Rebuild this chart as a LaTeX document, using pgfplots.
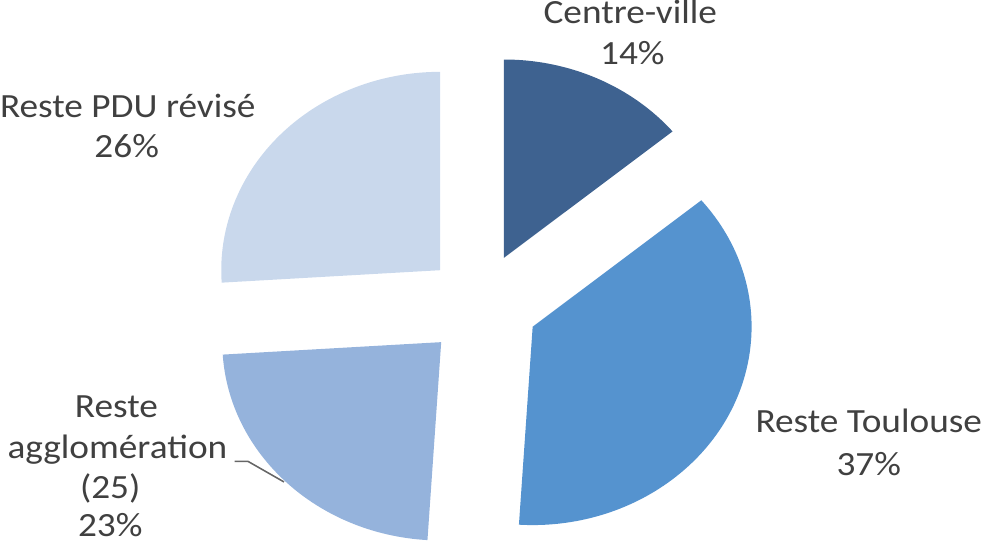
\documentclass[border=0pt]{standalone}
\usepackage{fontspec}
\setmainfont{Carlito}[FakeStretch=1.1]
\usepackage{pgfplots}
\usepackage{pgfplotstable}
\pgfplotsset{compat=1.18}

\definecolor{cv}{HTML}{3E6290}
\definecolor{rt}{HTML}{5593CF}
\definecolor{ra}{HTML}{95B3DC}
\definecolor{rp}{HTML}{C9D8EC}
\definecolor{txt}{HTML}{404040}

% share in %, apex of each exploded slice (pixel units, y up)
\pgfplotstableread{
value cx cy
14 509 286
37 537 219
23 448 204
26 447 274
}\piedata

\def\rx{213}
\def\ry{193}
\def\cumangle{90}
\newcommand\defslice[2]{%
  \pgfplotstablegetelem{#1}{value}\of\piedata
  \pgfmathsetmacro\tmpend{\cumangle-3.6*\pgfplotsretval}%
  \expandafter\xdef\csname s#2a\endcsname{\cumangle}%
  \expandafter\xdef\csname s#2b\endcsname{\tmpend}%
  \pgfplotstablegetelem{#1}{cx}\of\piedata
  \expandafter\xdef\csname s#2x\endcsname{\pgfplotsretval}%
  \pgfmathsetmacro\tmpx{\pgfplotsretval+\rx*cos(\cumangle)}%
  \expandafter\xdef\csname s#2u\endcsname{\tmpx}%
  \pgfplotstablegetelem{#1}{cy}\of\piedata
  \expandafter\xdef\csname s#2y\endcsname{\pgfplotsretval}%
  \pgfmathsetmacro\tmpy{\pgfplotsretval+\ry*sin(\cumangle)}%
  \expandafter\xdef\csname s#2v\endcsname{\tmpy}%
  \xdef\cumangle{\tmpend}%
}
\defslice{0}{A}
\defslice{1}{B}
\defslice{2}{C}
\defslice{3}{D}

\newcommand\drawslice[2]{%
  \fill[#2] (axis cs:\csname s#1x\endcsname,\csname s#1y\endcsname)
    -- (axis cs:\csname s#1u\endcsname,\csname s#1v\endcsname)
    arc[start angle=\csname s#1a\endcsname, end angle=\csname s#1b\endcsname,
        x radius=\rx, y radius=\ry] -- cycle;}

\begin{document}
\begin{tikzpicture}[
  lbl/.style={anchor=base, inner sep=0pt, text=txt,
    font=\fontsize{13}{15.7}\selectfont},
]
\begin{axis}[
  width=13.6cm, height=7.5617cm, scale only axis,
  xmin=0, xmax=982, ymin=0, ymax=546,
  hide axis, clip=false,
]
\drawslice{A}{cv}
\drawslice{B}{rt}
\drawslice{C}{ra}
\drawslice{D}{rp}

\node[lbl] at (axis cs:632,514) {Centre-ville};
\node[lbl] at (axis cs:634,474) {14\%};
\node[lbl] at (axis cs:143,423) {Reste PDU révisé};
\node[lbl] at (axis cs:142,384) {26\%};
\node[lbl] at (axis cs:864,116) {Reste Toulouse};
\node[lbl] at (axis cs:864,74) {37\%};
\node[lbl] at (axis cs:132,131) {Reste};
\node[lbl] at (axis cs:133,91) {agglomération};
\node[lbl] at (axis cs:126,52) {(25)};
\node[lbl] at (axis cs:126,15) {23\%};
\draw[txt!80, line width=0.6pt] (axis cs:247,88) -- (axis cs:260,88) -- (axis cs:295,68);
\end{axis}
\end{tikzpicture}
\end{document}
